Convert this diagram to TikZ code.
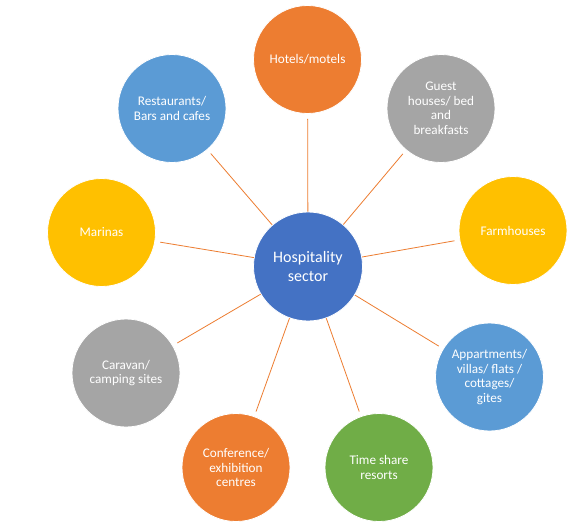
\documentclass[tikz,border=0pt]{standalone}
\usepackage{fontspec}
\setmainfont{Carlito}
\definecolor{cOrange}{HTML}{ED7D31}
\definecolor{cBlue}{HTML}{5B9BD5}
\definecolor{cGrey}{HTML}{A5A5A5}
\definecolor{cGold}{HTML}{FFC000}
\definecolor{cHub}{HTML}{4472C4}
\definecolor{cGreen}{HTML}{70AD47}
\begin{document}
\begin{tikzpicture}[x=1pt,y=-1pt,
  bubble/.style={circle,draw=white,line width=0.8pt,minimum size=108pt,inner sep=0pt,
    text=white,align=center,font=\fontsize{13.2}{14.5}\selectfont},
  hub/.style={bubble,fill=cHub,minimum size=109pt,font=\fontsize{16}{18}\selectfont},
  link/.style={draw=cOrange,line width=0.8pt,shorten >=5pt}]
\useasboundingbox (0,0) rectangle (572,527);
\fill[white] (0,0) rectangle (572,527);
\node[hub] (hub) at (308,266.5) {Hospitality\\sector};
\node[bubble,fill=cOrange] (hotels) at (307.5,59.5) {Hotels/motels};
\node[bubble,fill=cGrey] (guest) at (441,108.5) {Guest\\houses/ bed\\and\\breakfasts};
\node[bubble,fill=cGold] (farm) at (513,230.5) {Farmhouses};
\node[bubble,fill=cBlue] (appt) at (489.5,377) {Appartments/\\villas/ flats /\\cottages/\\gites};
\node[bubble,fill=cGreen] (time) at (379,467.5) {Time share\\resorts};
\node[bubble,fill=cOrange] (conf) at (236,467.5) {Conference/\\exhibition\\centres};
\node[bubble,fill=cGrey] (caravan) at (126,373) {Caravan/\\camping sites};
\node[bubble,fill=cGold] (marinas) at (101.5,232.5) {Marinas};
\node[bubble,fill=cBlue] (rest) at (172,108.5) {Restaurants/\\Bars and cafes};
\foreach \t in {hotels,guest,farm,appt,time,conf,caravan,marinas,rest}
  \draw[link] (hub) -- (\t);
\end{tikzpicture}
\end{document}
